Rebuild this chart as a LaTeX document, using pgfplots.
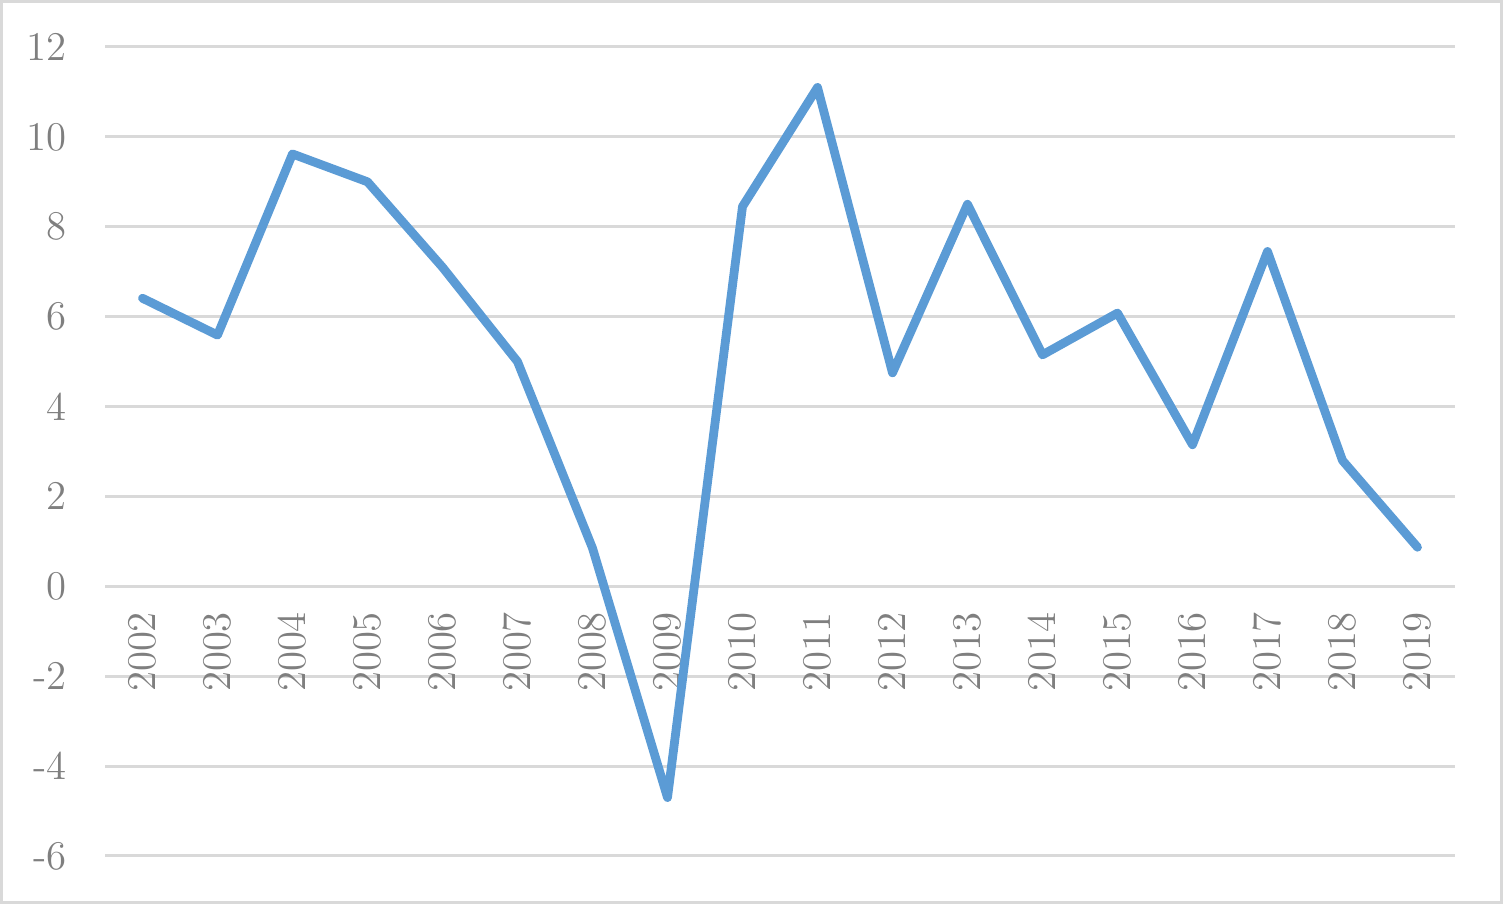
\documentclass[border=0pt]{standalone}
\usepackage{pgfplots}
\pgfplotsset{compat=1.18}
\definecolor{lineblue}{HTML}{5B9BD5}
\definecolor{gridgray}{HTML}{D9D9D9}
\definecolor{labelgray}{HTML}{7F7F7F}
\begin{document}
\begin{tikzpicture}
\begin{axis}[
  scale only axis,
  width=13.5cm, height=8.09cm,
  xmin=-0.5, xmax=17.5,
  ymin=-6, ymax=12,
  axis x line*=middle,
  axis y line*=left,
  axis line style={draw=none},
  tick style={draw=none},
  ymajorgrids,
  grid style={gridgray, line width=0.03cm},
  ytick={-6,-4,...,12},
  yticklabels={-6,-4,-2,0,2,4,6,8,10,12},
  xtick={0,...,17},
  xticklabels={2002,2003,2004,2005,2006,2007,2008,2009,2010,2011,2012,2013,2014,2015,2016,2017,2018,2019},
  ticklabel style={font=\fontsize{11.6}{13}\selectfont, text=labelgray},
  yticklabel style={anchor=east, xshift=-0.26cm},
  xticklabel style={rotate=90, anchor=east, inner sep=0pt, xshift=-0.25cm},
  clip=false,
]
\addplot[lineblue, line width=0.088cm, line join=round, line cap=round] coordinates {
  (0,6.41) (1,5.59) (2,9.62) (3,9.0) (4,7.1) (5,5.0) (6,0.85) (7,-4.7)
  (8,8.45) (9,11.1) (10,4.75) (11,8.5) (12,5.15) (13,6.08) (14,3.15)
  (15,7.45) (16,2.8) (17,0.87)
};
\end{axis}
\draw[gridgray, line width=0.03cm]
  ([shift={(-1.035cm,-0.465cm)}]current axis.south west) rectangle
  ([shift={(0.465cm,0.455cm)}]current axis.north east);
\end{tikzpicture}
\end{document}
